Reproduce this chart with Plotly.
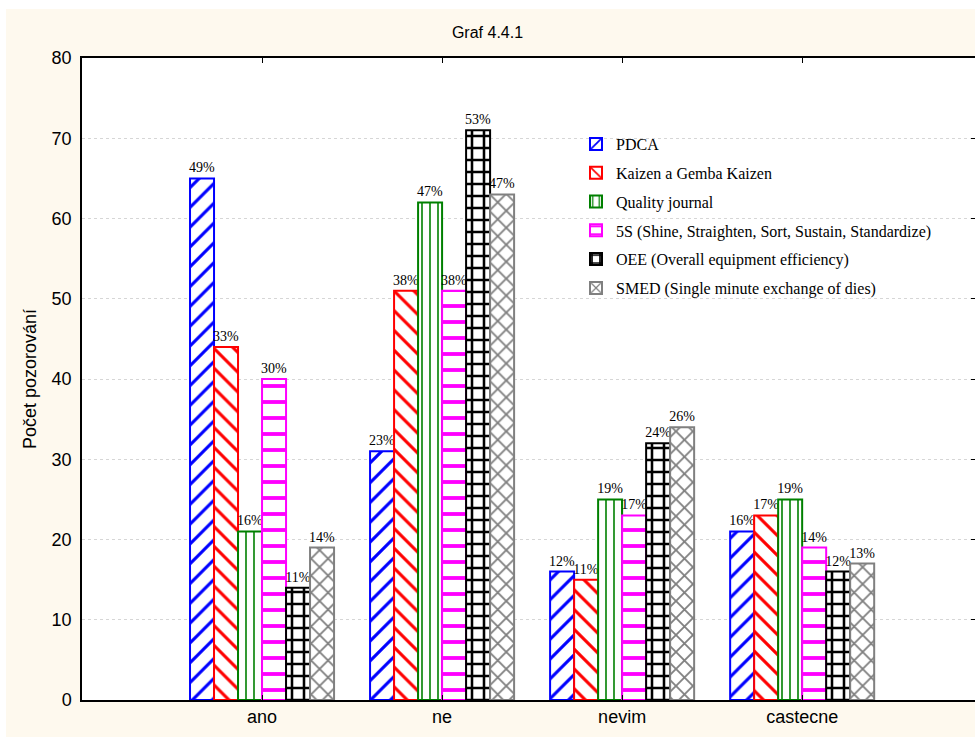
import plotly.graph_objects as go

categories = ["ano", "ne", "nevim", "castecne"]

series_names = [
    "PDCA",
    "Kaizen a Gemba Kaizen",
    "Quality journal",
    "5S (Shine, Straighten, Sort, Sustain, Standardize)",
    "OEE (Overall equipment efficiency)",
    "SMED (Single minute exchange of dies)",
]

pdca = [65, 31, 16, 21]
kaizen = [44, 51, 15, 23]
quality_journal = [21, 62, 25, 25]
five_s = [40, 51, 23, 19]
oee = [14, 71, 32, 16]
smed = [19, 63, 34, 17]

y_ticks = [0, 10, 20, 30, 40, 50, 60, 70, 80]

series_values = [pdca, kaizen, quality_journal, five_s, oee, smed]

# colour, hatch shape, hatch size, hatch solidity
styles = [
    ("#0000FF", "/", 14, 0.22),
    ("#FF0000", "\\", 14, 0.22),
    ("#008000", "|", 8, 0.2),
    ("#FF00FF", "-", 16, 0.24),
    ("#000000", "+", 12, 0.38),
    ("#808080", "x", 12, 0.28),
]

SERIF = "Liberation Serif, Times New Roman, serif"
SANS = "Liberation Sans, Arial, sans-serif"

fig = go.Figure()
x_pos = list(range(len(categories)))
for i, (name, vals) in enumerate(zip(series_names, series_values)):
    color, shape, size, solidity = styles[i]
    total = sum(vals)
    labels = [f"{round(v / total * 100)}%" for v in vals]
    fig.add_trace(go.Bar(
        x=x_pos,
        y=vals,
        name=name,
        legendgroup=f"g{i}",
        text=labels,
        textposition="outside",
        constraintext="none",
        cliponaxis=False,
        textfont=dict(family=SERIF, size=14, color="black"),
        marker=dict(
            color="white",
            line=dict(color=color, width=2),
            pattern=dict(shape=shape, fgcolor=color, bgcolor="white",
                         fgopacity=1, size=size, solidity=solidity,
                         fillmode="overlay"),
        ),
    ))

# invisible trace carrying the right-hand tick axis
fig.add_trace(go.Scatter(x=[0], y=[0], yaxis="y2", mode="markers",
                         marker=dict(opacity=0), showlegend=False,
                         hoverinfo="skip"))

# plot area in pixels: left 82, right 975, top 58, bottom 700
PL, PR, PT, PB = 82, 975, 58, 700
W, H = 975, 737

def px_to_paper_x(px):
    return (px - PL) / (PR - PL)

def px_to_paper_y(py):
    return (PB - py) / (PB - PT)

shapes = [
    # thin white border strips around the cream page
    dict(type="rect", xref="paper", yref="paper",
         x0=px_to_paper_x(-20), x1=px_to_paper_x(W + 20),
         y0=px_to_paper_y(9), y1=px_to_paper_y(-20),
         fillcolor="white", line=dict(width=0), layer="below"),
    dict(type="rect", xref="paper", yref="paper",
         x0=px_to_paper_x(-20), x1=px_to_paper_x(6),
         y0=px_to_paper_y(H + 20), y1=px_to_paper_y(-20),
         fillcolor="white", line=dict(width=0), layer="below"),
]

fig.update_layout(
    width=W,
    height=H,
    margin=dict(l=PL, r=W - PR, t=PT, b=H - PB, pad=0),
    paper_bgcolor="#FEF9EE",
    plot_bgcolor="white",
    barmode="group",
    bargap=0.2,
    bargroupgap=0,
    showlegend=True,
    title=dict(text="Graf 4.4.1", x=0.5, xref="container", xanchor="center",
               y=1 - 32 / H, yanchor="middle",
               font=dict(family=SANS, size=16, color="black")),
    legend=dict(
        x=px_to_paper_x(576), y=px_to_paper_y(127),
        xanchor="left", yanchor="top",
        bgcolor="rgba(0,0,0,0)",
        font=dict(family=SERIF, size=16, color="black"),
        tracegroupgap=5,
        itemwidth=30,
    ),
    shapes=shapes,
    xaxis=dict(
        tickmode="array",
        tickvals=x_pos,
        ticktext=categories,
        range=[-1, 3.96],
        showgrid=False,
        showline=True,
        linecolor="black",
        linewidth=1.5,
        mirror="ticks",
        ticks="inside",
        ticklen=5,
        tickcolor="black",
        tickfont=dict(family=SANS, size=18, color="black"),
        zeroline=False,
    ),
    yaxis=dict(
        title=dict(text="Počet pozorování", font=dict(family=SANS, size=18, color="black"),
                   standoff=10),
        range=[0, 80],
        tickmode="array",
        tickvals=y_ticks,
        showgrid=True,
        gridcolor="#D6D6D6",
        griddash="dot",
        gridwidth=1,
        showline=True,
        linecolor="black",
        linewidth=1.5,
        mirror=False,
        ticks="",
        ticklabelstandoff=5,
        tickfont=dict(family=SANS, size=18, color="black"),
        zeroline=False,
    ),
    yaxis2=dict(
        overlaying="y",
        side="right",
        range=[0, 80],
        tickmode="array",
        tickvals=y_ticks,
        showgrid=False,
        showline=False,
        showticklabels=False,
        ticks="inside",
        ticklen=4,
        tickcolor="black",
        zeroline=False,
    ),
)

fig.write_html("out.html")
